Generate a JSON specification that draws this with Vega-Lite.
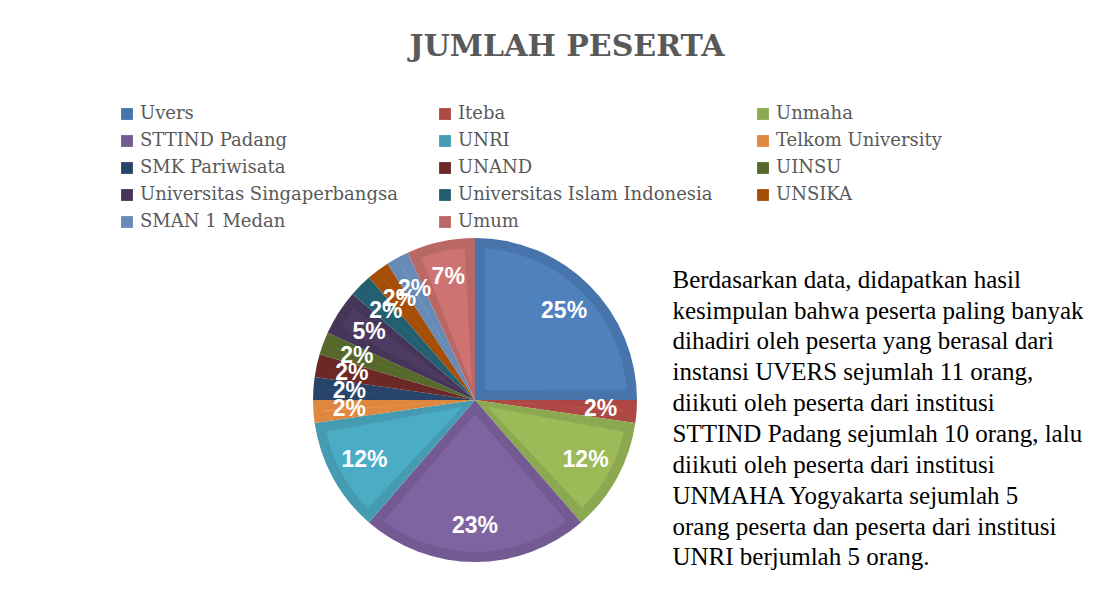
{
  "$schema": "https://vega.github.io/schema/vega-lite/v6.json",
  "autosize": {"type": "pad"},
  "padding": {"left": 118, "top": 32, "right": 0, "bottom": 0},
  "background": "white",
  "title": {
    "text": "JUMLAH PESERTA",
    "font": "DejaVu Serif",
    "fontSize": 30,
    "fontWeight": "bold",
    "color": "#595959",
    "anchor": "middle",
    "frame": "group",
    "baseline": "alphabetic",
    "offset": 19,
    "dx": 254
  },
  "datasets": {
    "peserta": [
      {"urutan": 1, "instansi": "Uvers", "jumlah": 11, "label": "25%"},
      {"urutan": 2, "instansi": "Iteba", "jumlah": 1, "label": "2%"},
      {"urutan": 3, "instansi": "Unmaha", "jumlah": 5, "label": "12%"},
      {"urutan": 4, "instansi": "STTIND Padang", "jumlah": 10, "label": "23%"},
      {"urutan": 5, "instansi": "UNRI", "jumlah": 5, "label": "12%"},
      {"urutan": 6, "instansi": "Telkom University", "jumlah": 1, "label": "2%"},
      {"urutan": 7, "instansi": "SMK Pariwisata", "jumlah": 1, "label": "2%"},
      {"urutan": 8, "instansi": "UNAND", "jumlah": 1, "label": "2%"},
      {"urutan": 9, "instansi": "UINSU", "jumlah": 1, "label": "2%"},
      {"urutan": 10, "instansi": "Universitas Singaperbangsa", "jumlah": 2, "label": "5%"},
      {"urutan": 11, "instansi": "Universitas Islam Indonesia", "jumlah": 1, "label": "2%"},
      {"urutan": 12, "instansi": "UNSIKA", "jumlah": 1, "label": "2%"},
      {"urutan": 13, "instansi": "SMAN 1 Medan", "jumlah": 1, "label": "2%"},
      {"urutan": 14, "instansi": "Umum", "jumlah": 3, "label": "7%"}
    ],
    "teks": [
      {"baris": 1, "kalimat": "Berdasarkan data, didapatkan hasil"},
      {"baris": 2, "kalimat": "kesimpulan bahwa peserta paling banyak"},
      {"baris": 3, "kalimat": "dihadiri oleh peserta yang berasal dari"},
      {"baris": 4, "kalimat": "instansi UVERS sejumlah 11 orang,"},
      {"baris": 5, "kalimat": "diikuti oleh peserta dari institusi"},
      {"baris": 6, "kalimat": "STTIND Padang sejumlah 10 orang, lalu"},
      {"baris": 7, "kalimat": "diikuti oleh peserta dari institusi"},
      {"baris": 8, "kalimat": "UNMAHA Yogyakarta sejumlah 5"},
      {"baris": 9, "kalimat": "orang peserta dan peserta dari institusi"},
      {"baris": 10, "kalimat": "UNRI berjumlah 5 orang."}
    ]
  },
  "spacing": 35,
  "hconcat": [
    {
      "width": 324,
      "height": 324,
      "data": {"name": "peserta"},
      "encoding": {
        "theta": {"field": "jumlah", "type": "quantitative", "stack": true},
        "order": {"field": "urutan", "type": "quantitative"}
      },
      "layer": [
        {
          "mark": {"type": "arc", "outerRadius": 162},
          "encoding": {
            "color": {
              "field": "instansi",
              "type": "nominal",
              "scale": {
                "domain": ["Uvers", "Iteba", "Unmaha", "STTIND Padang", "UNRI", "Telkom University", "SMK Pariwisata", "UNAND", "UINSU", "Universitas Singaperbangsa", "Universitas Islam Indonesia", "UNSIKA", "SMAN 1 Medan", "Umum"],
                "range": ["#4774AA", "#AD4845", "#8CA850", "#735A92", "#449BB2", "#DE873F", "#284569", "#6B2826", "#56692B", "#453558", "#235F70", "#A44E07", "#678BB6", "#B96866"]
              },
              "legend": {
                "orient": "none",
                "direction": "horizontal",
                "legendX": -195,
                "legendY": -133,
                "columns": 3,
                "gridAlign": "all",
                "columnPadding": 38,
                "rowPadding": 9,
                "symbolType": "square",
                "symbolSize": 140,
                "symbolStrokeWidth": 0,
                "symbolOpacity": 1,
                "labelFont": "DejaVu Serif",
                "labelFontSize": 18,
                "labelColor": "#595959",
                "labelLimit": 0,
                "labelOffset": 4,
                "title": null,
                "padding": 0
              }
            }
          }
        },
        {
          "mark": {"type": "arc", "outerRadius": 152, "innerRadius": 14, "padAngle": 0.134},
          "encoding": {
            "fill": {
              "field": "instansi",
              "type": "nominal",
              "scale": {
                "domain": ["Uvers", "Iteba", "Unmaha", "STTIND Padang", "UNRI", "Telkom University", "SMK Pariwisata", "UNAND", "UINSU", "Universitas Singaperbangsa", "Universitas Islam Indonesia", "UNSIKA", "SMAN 1 Medan", "Umum"],
                "range": ["#4F81BD", "#C0504D", "#9BBB59", "#8064A2", "#4BACC6", "#F79646", "#2C4D75", "#772C2A", "#5F7530", "#4D3B62", "#276A7C", "#B65708", "#729ACA", "#CD7371"]
              },
              "legend": null
            }
          }
        },
        {
          "mark": {"type": "text", "radius": 126, "font": "Liberation Sans", "fontSize": 23, "fontWeight": "bold", "fill": "white"},
          "encoding": {"text": {"field": "label", "type": "nominal"}}
        }
      ]
    },
    {
      "width": 1,
      "height": 330,
      "data": {"name": "teks"},
      "mark": {"type": "text", "align": "left", "baseline": "alphabetic", "font": "Liberation Serif", "fontSize": 25, "fill": "#000000"},
      "encoding": {
        "y": {"field": "baris", "type": "ordinal", "axis": null, "scale": {"type": "point", "padding": 0.85, "align": 0.95}},
        "text": {"field": "kalimat", "type": "nominal"}
      }
    }
  ],
  "config": {"view": {"stroke": null}}
}
